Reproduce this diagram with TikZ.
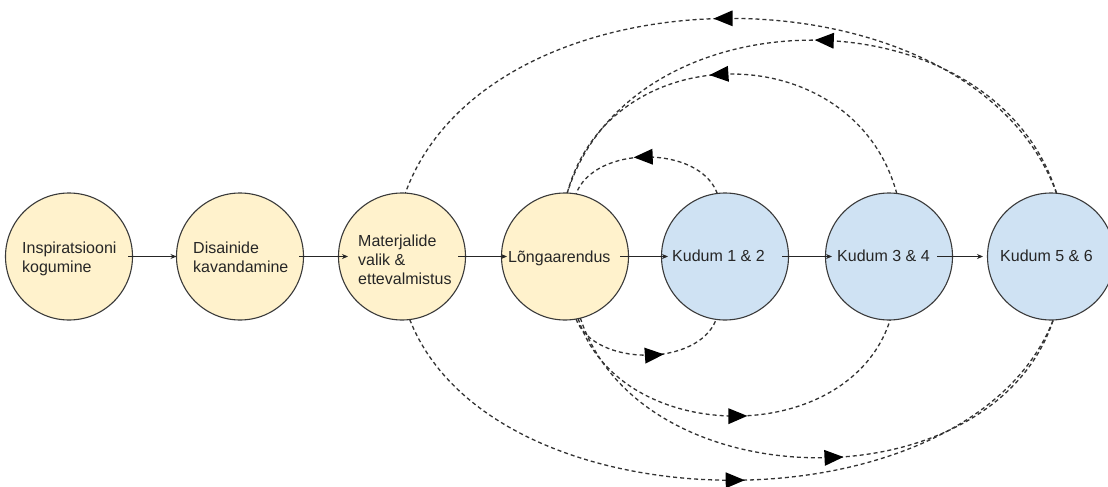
\documentclass[tikz,border=0pt]{standalone}
\usepackage{fontspec}
\setmainfont{Liberation Sans}
\usetikzlibrary{arrows.meta,decorations.markings}
\definecolor{yel}{HTML}{FFF2CC}
\definecolor{blu}{HTML}{CFE2F3}
\definecolor{edgecol}{HTML}{3A3A3A}
\definecolor{dashcol}{HTML}{333333}
\begin{document}
\begin{tikzpicture}[x=1pt,y=-1pt,
  stage/.style={circle, draw=edgecol, line width=1.1pt, minimum size=127pt, inner sep=0pt, outer sep=0pt},
  txt/.style={font=\fontsize{16}{18.8}\selectfont, text=black!85, inner sep=0pt, align=left},
  flow/.style={line width=0.9pt, draw=black!85, -{Stealth[length=6pt,width=5pt]}},
  loopline/.style={draw=dashcol, line width=1.3pt, dash pattern=on 4pt off 3pt,
    postaction={decorate, decoration={markings, mark=at position #1 with
      {\fill[black, solid] (-9.5pt,-8pt) -- (9.5pt,0pt) -- (-9.5pt,8pt) -- cycle;}}}}
]
\useasboundingbox (0,0) rectangle (1108,487);
\fill[white] (0,0) rectangle (1108,487);

% stages
\node[stage, fill=yel] (c1) at (69,256.5) {};
\node[stage, fill=yel] (c2) at (240,256.5) {};
\node[stage, fill=yel] (c3) at (402,256.5) {};
\node[stage, fill=yel] (c4) at (565,256.5) {};
\node[stage, fill=blu] (c5) at (725,256.5) {};
\node[stage, fill=blu] (c6) at (889,256.5) {};
\node[stage, fill=blu] (c7) at (1051,256.5) {};

% feedback loops (top, pointing back)
\draw[loopline=0.52] (c5.97) .. controls +(-18,-49) and +(18,-49) .. (c4.80);
\draw[loopline=0.53] (c6.83) .. controls +(-43,-159) and +(43,-159) .. (c4.88);
\draw[loopline=0.48] (c7.85) .. controls +(-64,-204) and +(64,-204) .. (c4.88);
\draw[loopline=0.51] (c7.85) .. controls +(-85,-233) and +(85,-233) .. (c3.87);

% feed-forward loops (bottom)
\draw[loopline=0.55] (c4.-80) .. controls +(18,48) and +(-18,48) .. (c5.-98);
\draw[loopline=0.51] (c4.-78) .. controls +(41,129) and +(-41,129) .. (c6.-89);
\draw[loopline=0.53] (c4.-76) .. controls +(61,185) and +(-61,185) .. (c7.-88);
\draw[loopline=0.505] (c3.-83) .. controls +(84,214) and +(-84,214) .. (c7.-88);

% labels
\node[txt, anchor=north west] (t1) at (22,241.6) {Inspiratsiooni\\kogumine};
\node[txt, anchor=north west] (t2) at (193,241.8) {Disainide\\kavandamine};
\node[txt, anchor=north west] (t3) at (358,235) {Materjalide\\valik \&\\ettevalmistus};
\node[txt, anchor=base west] (t4) at (508,262) {Lõngaarendus};
\node[txt, anchor=base west] (t5) at (672,261.5) {Kudum 1 \& 2};
\node[txt, anchor=base west] (t6) at (837,261.5) {Kudum 3 \& 4};
\node[txt, anchor=base west] (t7) at (1000,261.5) {Kudum 5 \& 6};

% main flow
\draw[flow] ([xshift=-4.5pt]c1.east) -- (c2.west);
\draw[flow] ([xshift=-4.5pt]c2.east) -- ([xshift=9.5pt]c3.west);
\draw[flow] ([xshift=-7.5pt]c3.east) -- ([xshift=5.5pt]c4.west);
\draw[flow] ([xshift=-8.5pt]c4.east) -- ([xshift=6.5pt]c5.west);
\draw[flow] ([xshift=-6.5pt]c5.east) -- ([xshift=6.5pt]c6.west);
\draw[flow] ([xshift=-15.5pt]c6.east) -- ([xshift=-4.5pt]c7.west);
\end{tikzpicture}
\end{document}
